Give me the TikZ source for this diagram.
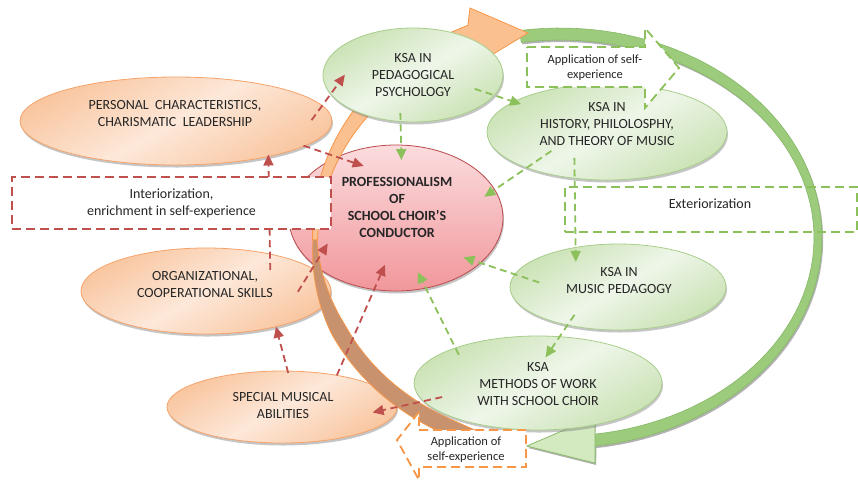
\documentclass[tikz,border=0pt]{standalone}
\usepackage{fontspec}
\setmainfont{Carlito}
\usetikzlibrary{shapes.geometric,arrows.meta,shadows}
\definecolor{orB}{HTML}{F5A36A}
\definecolor{orL}{HTML}{FDE8D9}
\definecolor{orD}{HTML}{F9C6A0}
\definecolor{grB}{HTML}{A8CE8B}
\definecolor{grL}{HTML}{EEF6E9}
\definecolor{grD}{HTML}{CBE2B5}
\definecolor{rdB}{HTML}{B9494B}
\definecolor{rdL}{HTML}{FBDCDE}
\definecolor{rdD}{HTML}{F1979B}
\definecolor{rln}{HTML}{C0504D}
\definecolor{gln}{HTML}{8CC05A}
\definecolor{oln}{HTML}{F79646}
\definecolor{oband}{HTML}{FAC090}
\definecolor{bband}{HTML}{C8926F}
\definecolor{gband}{HTML}{9CCB7C}
\definecolor{gbandB}{HTML}{86B965}
\definecolor{ghead}{HTML}{D3E9BF}
\definecolor{tx}{HTML}{262626}
\begin{document}
\begin{tikzpicture}[x=1pt,y=-1pt,
  declare function={hwt(\t)=2.5+9.5*(180-\t)/69; hwb(\t)=min(8,2+0.24*(\t-180));},
  ellbase/.style={ellipse, inner sep=0pt, outer sep=0pt, line width=0.8pt,
     drop shadow={shadow xshift=1pt, shadow yshift=-2.5pt, fill=black!50, opacity=0.45}},
  orell/.style={ellbase, draw=orB, top color=orD, bottom color=orD, middle color=orL, shading angle=30},
  grell/.style={ellbase, draw=grB, top color=grD, bottom color=grD, middle color=grL, shading angle=30},
  rdell/.style={ellbase, draw=rdB, top color=rdL, bottom color=rdD},
  lbl/.style={align=center, inner sep=0pt, text=tx, font=\fontsize{14}{17}\selectfont},
  small/.style={align=center, inner sep=0pt, text=tx, font=\fontsize{12.5}{15}\selectfont},
  conn/.style={line width=1.8pt, dash pattern=on 7pt off 4.5pt, -{Triangle[length=11pt,width=10pt]}},
  rconn/.style={conn, color=rln},
  gconn/.style={conn, color=gln},
  boxdash/.style={line width=1.8pt, dash pattern=on 9pt off 5pt},
  rbox/.style={boxdash, draw=rln, fill=white},
  gbox/.style={boxdash, draw=gln},
  obox/.style={boxdash, draw=oln, fill=white}
]
\useasboundingbox (0,0) rectangle (858,483);
\fill[white] (0,0) rectangle (858,483);

% green cycle arrow (exteriorization side)
\fill[black!30, xshift=1.2pt, yshift=-2pt]
  plot[domain=98.8:-82.3, samples=70] ({560+262*cos(\x)},{238-210*sin(\x)})
  -- (595,463) -- (527,446) -- (595,417)
  -- plot[domain=-82.3:98.8, samples=70] ({560+254*cos(\x)},{238-198*sin(\x)}) -- cycle;
\filldraw[fill=gband, draw=gbandB, line width=0.6pt]
  plot[domain=98.8:-82.3, samples=70] ({560+262*cos(\x)},{238-210*sin(\x)})
  -- (595,463) -- (527,446) -- (595,417)
  -- plot[domain=-82.3:98.8, samples=70] ({560+254*cos(\x)},{238-198*sin(\x)}) -- cycle;
\filldraw[fill=ghead, draw=gbandB, line width=0.6pt] (595,463) -- (527,446) -- (595,417) -- cycle;

% ellipses
\node[orell, minimum width=312pt, minimum height=88pt] (pers) at (176,121) {};
\node[grell, minimum width=240pt, minimum height=96pt] (hist) at (607,132) {};
\node[orell, minimum width=250pt, minimum height=86pt] (org) at (206,291) {};
\node[orell, minimum width=230pt, minimum height=72pt] (spec) at (282,407) {};
\node[rdell, minimum width=214pt, minimum height=146pt] (prof) at (396,218) {};

% orange cycle arrow, upper part
\filldraw[fill=oband, draw=oln, line width=0.8pt]
  plot[domain=180:111, samples=40] ({560+(245+hwt(\x))*cos(\x)},{240-(218+hwt(\x))*sin(\x)})
  -- (470,8) -- (528,33) -- (480,62)
  -- plot[domain=111:180, samples=40] ({560+(245-hwt(\x))*cos(\x)},{240-(218-hwt(\x))*sin(\x)}) -- cycle;

\node[grell, minimum width=180pt, minimum height=94pt] (psy) at (413,75) {};

% orange cycle arrow, lower part
\filldraw[fill=bband, draw=oln, line width=0.8pt]
  plot[domain=180:242, samples=40] ({560+(245+hwb(\x))*cos(\x)},{240-(210+hwb(\x))*sin(\x)})
  -- (477,431)
  -- plot[domain=242:180, samples=40] ({560+(245-hwb(\x))*cos(\x)},{240-(210-hwb(\x))*sin(\x)}) -- cycle;

\node[grell, minimum width=216pt, minimum height=86pt] (mped) at (618,287) {};
\node[grell, minimum width=248pt, minimum height=94pt] (meth) at (538,383) {};

% labels
\node[lbl] (perst) at (175,113.5) {PERSONAL\ \ CHARACTERISTICS,\\CHARISMATIC\ \ LEADERSHIP};
\node[lbl] (psyt) at (413,75) {KSA IN\\PEDAGOGICAL\\PSYCHOLOGY};
\node[lbl] (histt) at (607,124.5) {KSA IN\\HISTORY, PHILOLOSPHY,\\AND THEORY OF MUSIC};
\node[lbl, font=\fontsize{14}{17}\selectfont\bfseries] (proft) at (397,207.5) {PROFESSIONALISM\\OF\\SCHOOL CHOIR’S\\CONDUCTOR};
\node[lbl] (orgt) at (205,284) {ORGANIZATIONAL,\\COOPERATIONAL SKILLS};
\node[lbl] (spect) at (283,405) {SPECIAL MUSICAL\\ABILITIES};
\node[lbl] (mpedt) at (619,280.5) {KSA IN\\MUSIC PEDAGOGY};
\node[lbl] (metht) at (538,383.5) {KSA\\METHODS OF WORK\\WITH SCHOOL CHOIR};

% connector passing behind the interiorization box
\draw[rconn, shorten <=-16pt, shorten >=-2pt] (org.30.5) -- (pers.339.2);

% callout boxes
\node[rbox, lbl, minimum width=319pt, minimum height=52pt] (inter) at (171.5,203) {Interiorization,\\enrichment in self-experience};
\node[gbox, minimum width=292pt, minimum height=45pt] (ext) at (711,209.5) {};
\node[lbl] (extt) at (710,204) {Exteriorization};
\filldraw[gbox, fill=white] (527,47) -- (645,47) -- (645,28) -- (679,68) -- (645,108) -- (645,87) -- (527,87) -- cycle;
\node[small] (app1) at (595,67.5) {Application of self-\\experience};
\filldraw[obox] (419,430) -- (526,430) -- (526,467) -- (419,467) -- (419,480) -- (397,440) -- (419,412) -- cycle;
\node[small] (app2) at (466,449.5) {Application of\\self-experience};

% red connectors
\draw[rconn, shorten <=-18pt, shorten >=-24pt] (pers.6.8) -- (psy.193.5);
\draw[rconn, shorten <=-1pt, shorten >=-28pt] (pers.349.4) -- (prof.134.1);
\draw[rconn, shorten <=-27.5pt, shorten >=-25.5pt] (org.12.2) -- (prof.210.4);
\draw[rconn, shorten <=-2pt] (spec.81.3) -- (org.333.4);
\draw[rconn, shorten >=-27pt] (spec.30.2) -- (prof.253.1);
\draw[rconn, shorten <=-19pt, shorten >=-25pt] (meth.189.3) -- (spec.0);

% green connectors
\draw[gconn, shorten <=-8.6pt, shorten >=-15pt] (psy.255.6) -- (prof.86.1);
\draw[gconn, shorten <=-20.6pt, shorten >=-7.7pt] (psy.346) -- (hist.162.5);
\draw[gconn, shorten <=-29.7pt, shorten >=-12.6pt] (hist.204) -- (prof.16.9);
\draw[gconn, shorten <=-20.3pt, shorten >=-14.4pt] (hist.235.4) -- (mped.137.5);
\draw[gconn, shorten <=-25.8pt, shorten >=-17.8pt] (mped.173.5) -- (prof.332.9);
\draw[gconn, shorten <=-12.4pt, shorten >=-25pt] (mped.217.2) -- (meth.65.1);
\draw[gconn, shorten <=-7.6pt, shorten >=-17.9pt] (meth.157.3) -- (prof.293);
\end{tikzpicture}
\end{document}
